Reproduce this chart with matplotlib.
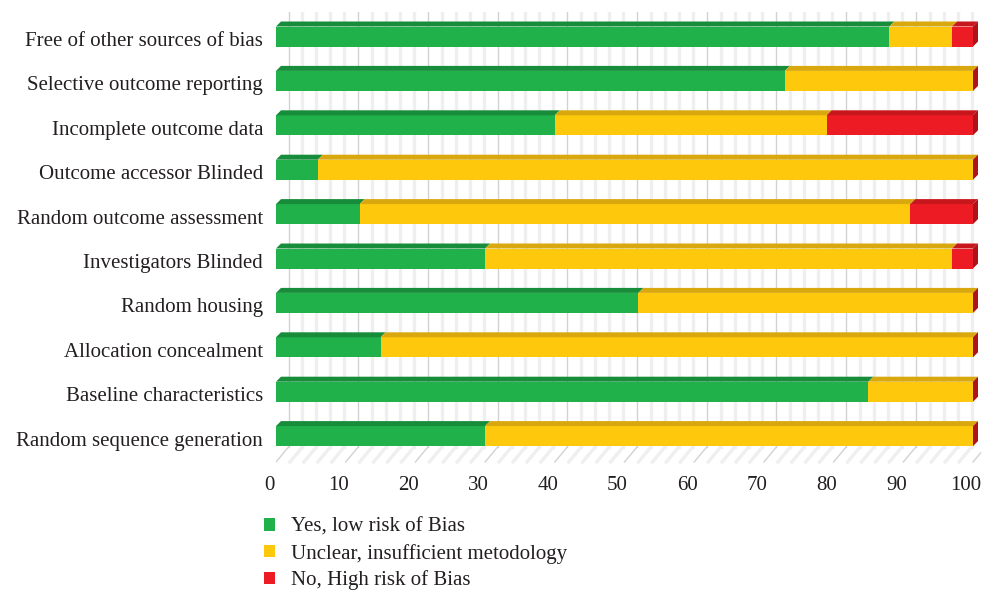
import matplotlib
matplotlib.use("Agg")
import matplotlib.pyplot as plt
from matplotlib.patches import Polygon, Patch
import numpy as np

categories = ["Free of other sources of bias", "Selective outcome reporting",
              "Incomplete outcome data", "Outcome accessor Blinded",
              "Random outcome assessment", "Investigators Blinded",
              "Random housing", "Allocation concealment",
              "Baseline characteristics", "Random sequence generation"]
low_risk = [88, 73, 40, 6, 12, 30, 52, 15, 85, 30]
unclear = [9, 27, 39, 94, 79, 67, 48, 85, 15, 70]
high_risk = [3, 0, 21, 0, 9, 3, 0, 0, 0, 0]
series_names = ["Yes, low risk of Bias", "Unclear, insufficient metodology",
                "No, High risk of Bias"]
xticks = [0, 10, 20, 30, 40, 50, 60, 70, 80, 90, 100]

front = ["#21b14b", "#fec90d", "#ed1c24"]
topc = ["#178c3a", "#d8a80e", "#c8161d"]
side = "#b0121a"

plt.rcParams['font.family'] = ['Liberation Serif', 'DejaVu Serif']
fs = 15
txt = "#231f20"

W, H = 981, 595
fig = plt.figure(figsize=(W / 100, H / 100), dpi=100)
# axes covers px x 276..985, y 12..470
ppu_x = 6.97
row_px = 44.4
y0_px = 36.5
ax_l, ax_r, ax_t, ax_b = 276, 985, 12, 470
ax = fig.add_axes([ax_l / W, 1 - ax_b / H, (ax_r - ax_l) / W, (ax_b - ax_t) / H])
ax.set_xlim(0, (ax_r - ax_l) / ppu_x)
ax.set_ylim((ax_b - y0_px) / row_px, (ax_t - y0_px) / row_px)
ax.axis("off")

bh = 20 / row_px
dx = 5 / ppu_x
dy = 5 / row_px
wall_dx = 12.5 / ppu_x
floor_back = (447 - y0_px) / row_px
floor_front = (462 - y0_px) / row_px
top_y = (ax_t - y0_px) / row_px

# back wall stripes and floor hatching
for v in np.arange(0, 101, 2):
    major = v % 10 == 0
    c = "#d2d2d2" if major else "#efefef"
    lw = 1.0 if major else 2.4
    ax.plot([v + wall_dx, v + wall_dx], [top_y, floor_back], color=c, lw=lw, zorder=0)
    ax.plot([v + wall_dx, v], [floor_back, floor_front], color=c, lw=lw, zorder=0)

ypos = np.arange(len(categories))
lefts = np.zeros(len(categories))
for k, vals in enumerate([low_risk, unclear, high_risk]):
    vals = np.array(vals, dtype=float)
    ax.barh(ypos, vals, left=lefts, height=bh, color=front[k], zorder=2)
    for i in range(len(categories)):
        if vals[i] <= 0:
            continue
        yt = ypos[i] - bh / 2
        a, b = lefts[i], lefts[i] + vals[i]
        ax.add_patch(Polygon([(a, yt), (b, yt), (b + dx, yt - dy), (a + dx, yt - dy)],
                             closed=True, facecolor=topc[k], edgecolor="none", zorder=3))
    lefts += vals

for i in range(len(categories)):
    yt = ypos[i] - bh / 2
    yb = ypos[i] + bh / 2
    e = lefts[i]
    ax.add_patch(Polygon([(e, yt), (e + dx, yt - dy), (e + dx, yb - dy), (e, yb)],
                         closed=True, facecolor=side, edgecolor="none", zorder=3))

for i, name in enumerate(categories):
    ax.text(-13 / ppu_x, ypos[i] + 9.5 / row_px, name, ha="right", va="baseline",
            fontsize=fs, color=txt)

tick_y = (490 - y0_px) / row_px
for t in xticks:
    ax.text(t - 7 / ppu_x, tick_y, str(t), ha="center", va="baseline", fontsize=fs, color=txt)

handles = [Patch(facecolor=c, edgecolor="none") for c in front]
fig.legend(handles, series_names, loc="upper left", bbox_to_anchor=(264 / W, 1 - 518 / H),
           frameon=False, fontsize=fs, handlelength=0.55, handleheight=0.55,
           handletextpad=0.75, labelspacing=0.32, borderaxespad=0, borderpad=0,
           labelcolor=txt)

fig.savefig("out.png", dpi=100)
